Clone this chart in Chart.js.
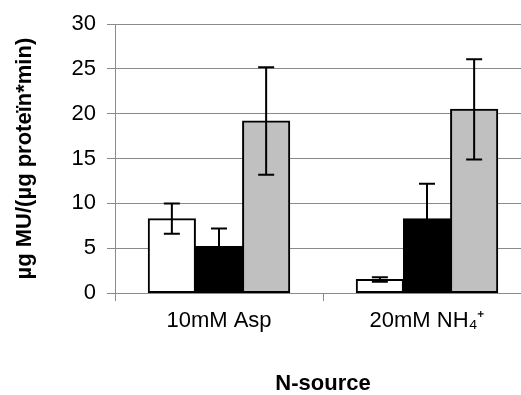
<!DOCTYPE html>
<html>
<head>
<meta charset="utf-8">
<script src="https://cdn.jsdelivr.net/npm/chart.js@4.4.0/dist/chart.umd.min.js"></script>
<style>
    html, body { margin: 0; padding: 0; background: #fff; overflow: hidden; }
    #wrap { width: 521px; height: 395px; overflow: hidden; }
</style>
</head>
<body>
<div id="wrap"><canvas id="chart" width="531" height="395"></canvas></div>
<script>
const categories = ['10mM Asp', '20mM NH\u2084\u207A'];
const whiteValues = [8.3, 1.5];
const whiteErrors = [1.7, 0.25];
const blackValues = [5.2, 8.3];
const blackErrors = [2.0, 3.9];
const greyValues = [19.2, 20.5];
const greyErrors = [6.0, 5.6];
const yTicks = [0, 5, 10, 15, 20, 25, 30];

const FONT = "'Liberation Sans', Arial, sans-serif";
const GRID = '#8a8a8a';

// simple error bar plugin, drawn on top of bars
const errorBars = {
    id: 'errorBars',
    afterDatasetsDraw(chart) {
        const ctx = chart.ctx;
        const yScale = chart.scales.y;
        ctx.save();
        ctx.strokeStyle = '#000';
        ctx.lineWidth = 2;
        chart.data.datasets.forEach((ds, di) => {
            const meta = chart.getDatasetMeta(di);
            meta.data.forEach((bar, i) => {
                const v = ds.data[i];
                const e = ds.errors[i];
                const top = yScale.getPixelForValue(v + e);
                const bot = yScale.getPixelForValue(v - e);
                const half = 8;
                ctx.beginPath();
                ctx.moveTo(bar.x, top);
                ctx.lineTo(bar.x, bot);
                ctx.moveTo(bar.x - half, top);
                ctx.lineTo(bar.x + half, top);
                ctx.moveTo(bar.x - half, bot);
                ctx.lineTo(bar.x + half, bot);
                ctx.stroke();
            });
        });
        ctx.restore();
    }
};

const barStyle = {
    borderColor: '#000',
    borderWidth: 2,
    borderSkipped: false,
    inflateAmount: 0.5
};

new Chart(document.getElementById('chart'), {
    type: 'bar',
    data: {
        labels: categories,
        datasets: [
            { ...barStyle, label: 'white', data: whiteValues, errors: whiteErrors, backgroundColor: '#ffffff' },
            { ...barStyle, label: 'black', data: blackValues, errors: blackErrors, backgroundColor: '#000000' },
            { ...barStyle, label: 'grey', data: greyValues, errors: greyErrors, backgroundColor: '#c0c0c0' }
        ]
    },
    plugins: [errorBars],
    options: {
        responsive: false,
        animation: false,
        datasets: {
            bar: { barPercentage: 1.0, categoryPercentage: 0.68 }
        },
        layout: { padding: { top: 24, left: 0, right: 0, bottom: 0 } },
        plugins: {
            legend: { display: false },
            tooltip: { enabled: false }
        },
        scales: {
            x: {
                offset: true,
                grid: { display: true, drawOnChartArea: false, color: GRID, tickLength: 8, offset: true },
                border: { color: GRID },
                ticks: { color: '#000', font: { family: FONT, size: 22 }, padding: 7 },
                title: {
                    display: true,
                    text: 'N-source',
                    color: '#000',
                    font: { family: FONT, size: 22, weight: 'bold', lineHeight: 1 },
                    padding: { top: 0, bottom: 0 }
                },
                afterFit(scale) { scale.height = 102; }
            },
            y: {
                min: 0,
                max: 30,
                afterBuildTicks(scale) { scale.ticks = yTicks.map(v => ({ value: v })); },
                grid: { color: GRID, tickLength: 8 },
                border: { color: GRID },
                ticks: { color: '#000', font: { family: FONT, size: 22 }, padding: 11 },
                title: {
                    display: true,
                    text: '\u00B5g MU/(\u00B5g prote\u00EFn*min)',
                    color: '#000',
                    font: { family: FONT, size: 22, weight: 'bold', lineHeight: 1 },
                    padding: { top: 14, bottom: 0 }
                },
                afterFit(scale) { scale.width = 115; }
            }
        }
    }
});
</script>
</body>
</html>
